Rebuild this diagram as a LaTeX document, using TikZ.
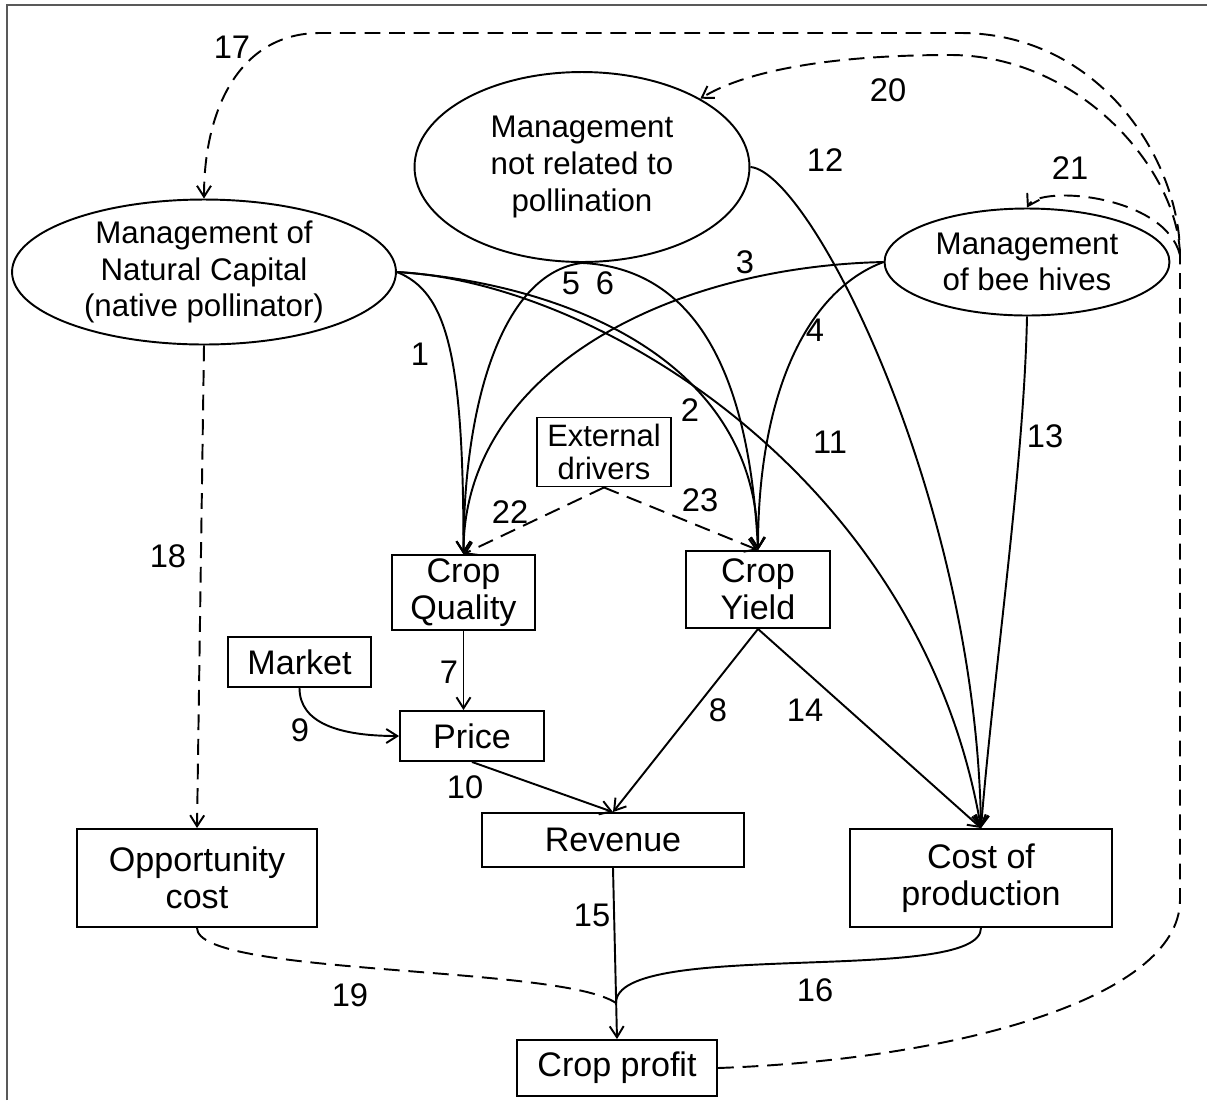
\documentclass[tikz,border=0pt]{standalone}
\usepackage{fontspec}
\setmainfont{Liberation Sans}
\usetikzlibrary{shapes.geometric}
\usetikzlibrary{arrows.meta}
\tikzset{
>={Straight Barb[length=2.2mm,width=2.8mm]}, % open arrow tips
my box/.style={draw,rectangle,inner sep=0pt,align=center,
  font=\fontsize{19.4}{21}\selectfont},
my ellipse/.style={draw,ellipse,inner sep=0pt,align=center,
  font=\fontsize{17.8}{20.8}\selectfont},
num/.style={inner sep=0pt,font=\fontsize{18.6}{20}\selectfont},
link/.style={->},
dlink/.style={->,dash pattern=on 9pt off 5pt},
frame/.style={draw=black!65,line width=1.2pt}
}

\begin{document}
\begin{tikzpicture}[x=0.02cm,y=-0.02cm,line width=1.1pt]
\useasboundingbox (0,0) rectangle (1207,1100);
\draw[frame] (7,1100) -- (7,5) -- (1207,5);

% management nodes
\node[my ellipse,minimum width=7.68cm,minimum height=2.9cm] (nc) at (204,272)
  {Management of\\Natural Capital\\(native pollinator)};
\node[my ellipse,minimum width=6.7cm,minimum height=3.8cm] (np) at (582,167)
  {Management\\not related to\\pollination};
\node[my ellipse,minimum width=5.7cm,minimum height=2.14cm] (bh) at (1027,262)
  {Management\\of bee hives};

% boxes
\node[my box,minimum width=2.68cm,minimum height=1.38cm,
  font=\fontsize{17.6}{18.8}\selectfont] (ed) at (604,452) {External\\drivers};
\node[my box,minimum width=2.86cm,minimum height=1.5cm] (cq) at (463.5,592.5) {Crop\\Quality};
\node[my box,minimum width=2.88cm,minimum height=1.54cm] (cy) at (758,589.5) {Crop\\Yield};
\node[my box,minimum width=2.86cm,minimum height=1cm] (mkt) at (299.5,662) {Market};
\node[my box,minimum width=2.88cm,minimum height=1cm] (price) at (472,736) {Price};
\node[my box,minimum width=5.24cm,minimum height=1.08cm] (rev) at (613,840) {Revenue};
\node[my box,minimum width=4.8cm,minimum height=1.96cm] (oc) at (197,878) {Opportunity\\cost};
\node[my box,minimum width=5.24cm,minimum height=1.96cm] (cp) at (981,878) {Cost of\\production};
\node[my box,minimum width=4cm,minimum height=1.12cm] (profit) at (617,1068) {Crop profit};

\coordinate (j) at (1180,255);
\coordinate (jn) at (616,1003);

% solid links
\draw[link] (nc.east) .. controls +(50,20) and +(0,-200) .. (cq.north);
\draw[link] (nc.east) .. controls +(150,10) and +(0,-200) .. (cy.north);
\draw[link] (nc.east) .. controls +(200,10) and +(-60,-350) .. (cp.north);
\draw[link] (bh.west) .. controls +(-220,5) and +(0,-180) .. (cq.north);
\draw[link] (bh.west) .. controls +(-80,30) and +(0,-150) .. (cy.north);
\draw[link] (np.south) .. controls +(-80,10) and +(0,-150) .. (cq.north);
\draw[link] (np.south) .. controls +(100,5) and +(-10,-200) .. (cy.north);
\draw[link] (np.east) .. controls +(60,5) and +(-5,-330) .. (cp.north);
\draw[link] (bh.south) .. controls +(-3,150) and +(12,-150) .. (cp.north);
\draw[link] (cq.south) -- (cq.south |- price.north);
\draw[link] (cy.south) -- (rev.north);
\draw[link] (cy.south) -- (cp.north);
\draw[link] (mkt.south) .. controls +(0,35) and +(-60,0) .. (price.west);
\draw[link] (price.south) -- (rev.north);
\draw[link] (rev.south) -- (profit.north);
\draw (cp.south) .. controls +(0,58) and +(0,-65) .. (jn);

% dashed links
\draw[dlink] (ed.south) -- (cq.north);
\draw[dlink] (ed.south) -- (cy.north);
\draw[dlink] (nc.south) -- (oc.north);
\draw[dlink,-] (oc.south) .. controls +(0,48) and +(-56,-38) .. (jn);
\draw[dlink] (profit.east) .. controls +(230,-8) and +(0,100) .. (1180,900) -- (j)
  .. controls +(0,-95) and +(140,0) .. (960,33) -- (320,33)
  .. controls +(-80,0) and +(0,-90) .. (nc.north);
\draw[dlink] (j) .. controls +(-2,-85) and +(130,0) .. (950,55)
  .. controls +(-130,0) and +(40,-25) .. (np.30);
\draw[dlink] (j) .. controls +(-15,-60) and +(13,-23) .. (bh.north);

% numbers
\node[num] (n1) at (420,354) {1};
\node[num] (n2) at (690,410) {2};
\node[num] (n3) at (745,262) {3};
\node[num] (n4) at (815,330) {4};
\node[num] (n5) at (571,283) {5};
\node[num] (n6) at (605,283) {6};
\node[num] (n7) at (449,672) {7};
\node[num] (n8) at (718,710) {8};
\node[num] (n9) at (300,730) {9};
\node[num] (n10) at (465,787) {10};
\node[num] (n11) at (830,442) {11};
\node[num] (n12) at (825,160) {12};
\node[num] (n13) at (1045,436) {13};
\node[num] (n14) at (805,710) {14};
\node[num] (n15) at (592,915) {15};
\node[num] (n16) at (815,990) {16};
\node[num] (n17) at (232,47) {17};
\node[num] (n18) at (168,556) {18};
\node[num] (n19) at (350,995) {19};
\node[num] (n20) at (888,90) {20};
\node[num] (n21) at (1070,168) {21};
\node[num] (n22) at (510,512) {22};
\node[num] (n23) at (700,500) {23};
\end{tikzpicture}
\end{document}
